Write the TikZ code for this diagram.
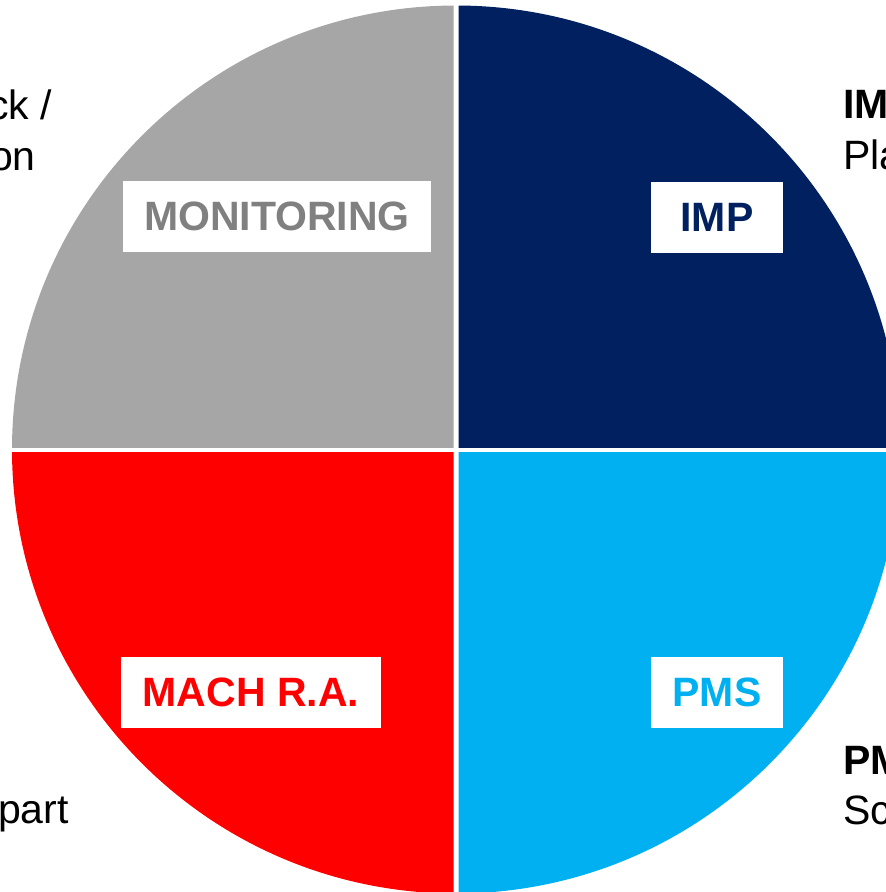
\documentclass[tikz,border=0pt]{standalone}
\usepackage{fontspec}
\setmainfont{Liberation Sans}
\usepackage{xcolor}

\definecolor{moniGray}{HTML}{A6A6A6}
\definecolor{moniText}{HTML}{808080}
\definecolor{impNavy}{HTML}{002060}
\definecolor{machRed}{HTML}{FF0000}
\definecolor{pmsCyan}{HTML}{00B0F0}

\begin{document}
\begin{tikzpicture}[line cap=round,line join=round,x=1pt,y=-1pt,
  tagbox/.style={fill=white, inner sep=0pt, minimum height=71pt, font=\fontsize{41}{49}\selectfont\bfseries},
  sidetext/.style={inner sep=0pt, font=\fontsize{41}{49}\selectfont}]
\useasboundingbox (0,0) rectangle (886,892);

% centre of the wheel
\coordinate (O) at (456,449.5);

% --- four quarters, split by a thin white cross ---
\begin{scope}
  \clip (0,0) rectangle (453.5,447);
  \fill [moniGray] (O) circle [radius=444pt];
\end{scope}
\begin{scope}
  \clip (458.5,0) rectangle (900,447);
  \fill [impNavy] (O) circle [radius=444pt];
\end{scope}
\begin{scope}
  \clip (0,452) rectangle (453.5,900);
  \fill [machRed] (O) circle [radius=444pt];
\end{scope}
\begin{scope}
  \clip (458.5,452) rectangle (900,900);
  \fill [pmsCyan] (O) circle [radius=444pt];
\end{scope}

% --- white tags ---
\node [tagbox, minimum width=308pt, text=moniText] (moni) at (277,216.5) {MONITORING};
\node [tagbox, minimum width=132pt, text=impNavy] (imp) at (717,217) {IMP};
\node [tagbox, minimum width=260pt, text=machRed] (mach) at (251,692.5) {MACH R.A.};
\node [tagbox, minimum width=132pt, text=pmsCyan] (pms) at (717,692.5) {PMS};

% --- side texts (cut by the page edge) ---
\node [sidetext, anchor=base east] (moniA) at (52,119) {ck /};
\node [sidetext, anchor=base east] (moniB) at (36,170) {on};
\node [sidetext, anchor=base east] (machA) at (69,823) {part};
\node [sidetext, anchor=base west, font=\fontsize{41}{49}\selectfont\bfseries] (impA) at (843,118) {IM};
\node [sidetext, anchor=base west] (impB) at (843,169) {Pla};
\node [sidetext, anchor=base west, font=\fontsize{41}{49}\selectfont\bfseries] (pmsA) at (843,774) {PM};
\node [sidetext, anchor=base west] (pmsB) at (843,824) {Sc};

\end{tikzpicture}
\end{document}
